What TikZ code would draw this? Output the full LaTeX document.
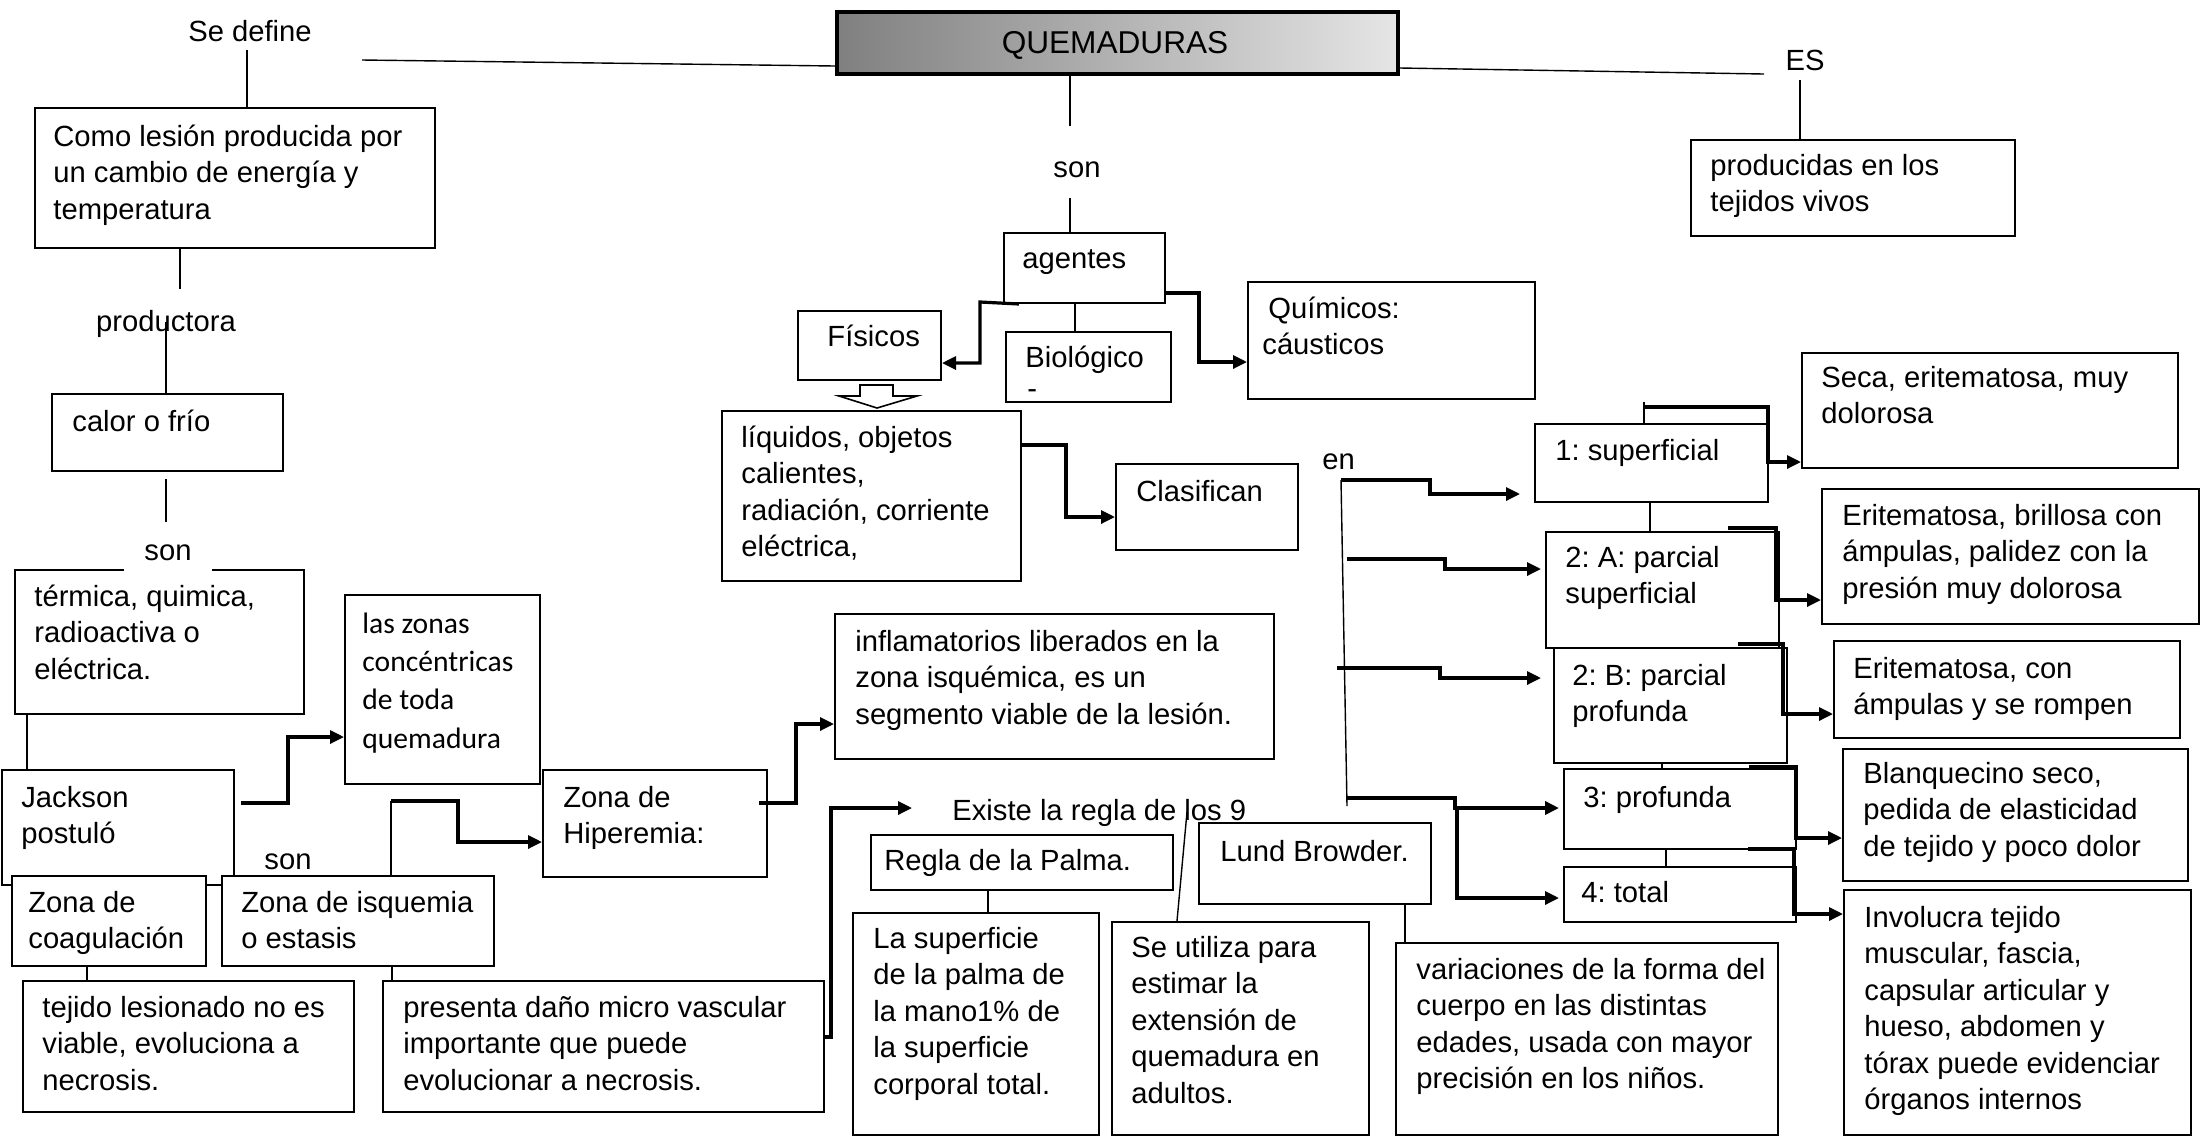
\documentclass[tikz,border=0pt]{standalone}
\usepackage{fontspec}
\setmainfont{Liberation Sans}
\newfontfamily\calib{Carlito}
\usetikzlibrary{arrows.meta}
\frenchspacing
\newcommand\fs{\fontsize{14.6pt}{18.25pt}\selectfont}
\newcommand\mlx[1]{\begin{tabular}[t]{@{}l@{}}#1\end{tabular}}
\newcommand\mkbox[6][]{\node[bx,#1,minimum width={(#5-#3)*0.5pt},minimum height={(#6-#4)*0.5pt}] (#2) at (#3,#4) {};}
\begin{document}
\begin{tikzpicture}[x=0.5pt,y=-0.5pt,
 bx/.style={draw,line width=1pt,fill=white,inner sep=0pt,anchor=north west},
 txt/.style={anchor=base west,inner sep=0pt,font=\fs},
 lbl/.style={anchor=base,inner sep=0pt,font=\fs},
 ln/.style={line width=0.7pt},
 ar/.style={line width=1.6pt,-{Triangle[length=7pt,width=6.5pt]}},
]
\fill[white] (0,0) rectangle (2201,1137);
\useasboundingbox (0,0) rectangle (2201,1137);
% ---------- boxes ----------
\mkbox{def}{34}{107}{434}{247}
\mkbox{calor}{51}{393}{282}{470}
\mkbox{term}{14}{569}{303}{713}
\mkbox{zonas}{344}{594}{539}{783}
\mkbox{jack}{1}{769}{233}{884}
\mkbox{hip}{542}{769}{766}{876}
\mkbox{infl}{834}{613}{1273}{758}
\mkbox{coag}{11}{875}{205}{965}
\mkbox{isq}{221}{875}{493}{965}
\mkbox{teji}{22}{980}{353}{1111}
\mkbox{pres}{382}{980}{823}{1111}
\mkbox{palma}{870}{834}{1172}{889}
\mkbox{lasup}{852}{912}{1098}{1134}
\mkbox{seut}{1111}{921}{1368}{1134}
\mkbox{lund}{1198}{822}{1430}{903}
\mkbox{vari}{1395}{942}{1777}{1134}
\mkbox[line width=2pt,left color=black!50,right color=black!10]{quem}{835}{10}{1396}{72}
\mkbox{agen}{1003}{232}{1164}{302}
\mkbox{fis}{797}{310}{940}{379}
\mkbox{bio}{1005}{331}{1170}{401}
\mkbox{quim}{1247}{281}{1534}{398}
\mkbox{liq}{721}{410}{1020}{580}
\mkbox{clas}{1115}{463}{1297}{549}
\mkbox{prod}{1690}{139}{2014}{235}
\mkbox{s1}{1534}{423}{1767}{501}
\mkbox{seca}{1801}{352}{2177}{467}
\mkbox{s2a}{1545}{531}{1778}{647}
\mkbox{erib}{1821}{488}{2198}{623}
\mkbox{s2b}{1553}{647}{1786}{762}
\mkbox{eric}{1833}{640}{2179}{737}
\mkbox{s3}{1563}{768}{1795}{848}
\mkbox{blan}{1842}{748}{2187}{880}
\mkbox{s4}{1563}{866}{1795}{921}
\mkbox{invo}{1843}{889}{2190}{1134}
% ---------- hollow arrow under Fisicos ----------
\draw[line width=0.8pt,fill=white] (860,385) -- (893,385) -- (893,396) -- (917,396) -- (877,408) -- (839,396) -- (860,396) -- cycle;
% ---------- labels ----------
\node[lbl] (sedef) at (250,41) {Se define};
\node[lbl] (prodc) at (166,331) {productora};
\node[lbl,fill=white,inner xsep=10pt,inner ysep=6pt] (son1) at (168,560) {son};
\node[lbl] (son2) at (288,869) {son};
\node[lbl] (son3) at (1077,177) {son};
\node[lbl] (es) at (1805,70) {ES};
\node[txt] (existe) at (952,820) {Existe la regla de los 9};
\node[txt] (en) at (1322,469) {en};
\node[lbl,font=\fontsize{15.8pt}{19pt}\selectfont] (quemt) at (1115,53) {QUEMADURAS};
% ---------- box texts ----------
\node[txt] (deft) at (53,146) {\mlx{Como lesión producida por\\un cambio de energía y\\temperatura}};
\node[txt] (calort) at (72,431) {calor o frío};
\node[txt] (termt) at (34,606) {\mlx{térmica, quimica,\\radioactiva o\\eléctrica.}};
\node[txt,font=\calib\fontsize{14.8pt}{19.2pt}\selectfont] (zonast) at (362,633) {\mlx{las zonas\\concéntricas\\de toda\\quemadura}};
\node[txt] (jackt) at (21,807) {\mlx{Jackson\\postuló}};
\node[txt] (hipt) at (563,807) {\mlx{Zona de\\Hiperemia:}};
\node[txt] (inflt) at (855,651) {\mlx{inflamatorios liberados en la\\zona isquémica, es un\\segmento viable de la lesión.}};
\node[txt] (coagt) at (28,912) {\mlx{Zona de\\coagulación}};
\node[txt] (isqt) at (241,912) {\mlx{Zona de isquemia\\o estasis}};
\node[txt] (tejit) at (42,1017) {\mlx{tejido lesionado no es\\viable, evoluciona a\\necrosis.}};
\node[txt] (prest) at (403,1017) {\mlx{presenta daño micro vascular\\importante que puede\\evolucionar a necrosis.}};
\node[txt] (palmat) at (884,870) {Regla de la Palma.};
\node[txt] (lasupt) at (873,948) {\mlx{La superficie\\de la palma de\\la mano1\% de\\la superficie\\corporal total.}};
\node[txt] (seutt) at (1131,957) {\mlx{Se utiliza para\\estimar la\\extensión de\\quemadura en\\adultos.}};
\node[txt] (lundt) at (1220,861) {Lund Browder.};
\node[txt] (varit) at (1416,979) {\mlx{variaciones de la forma del\\cuerpo en las distintas\\edades, usada con mayor\\precisión en los niños.}};
\node[txt] (agent) at (1022,268) {agentes};
\node[txt] (fist) at (827,346) {Físicos};
\node[txt] (biot) at (1025,367) {Biológico};
\node[txt] (biod) at (1027,398) {-};
\node[txt] (quimt) at (1262,318) {\mlx{\hspace*{3pt}Químicos:\\cáusticos}};
\node[txt] (liqt) at (741,447) {\mlx{líquidos, objetos\\calientes,\\radiación, corriente\\eléctrica,}};
\node[txt] (clast) at (1136,501) {Clasifican};
\node[txt] (prodt) at (1710,175) {\mlx{producidas en los\\tejidos vivos}};
\node[txt] (s1t) at (1555,460) {1: superficial};
\node[txt] (secat) at (1821,387) {\mlx{Seca, eritematosa, muy\\dolorosa}};
\node[txt] (s2at) at (1565,567) {\mlx{2: A: parcial\\superficial}};
\node[txt] (eribt) at (1842,525) {\mlx{Eritematosa, brillosa con\\ámpulas, palidez con la\\presión muy dolorosa}};
\node[txt] (s2bt) at (1572,685) {\mlx{2: B: parcial\\profunda}};
\node[txt] (erict) at (1853,678) {\mlx{Eritematosa, con\\ámpulas y se rompen}};
\node[txt] (s3t) at (1583,807) {3: profunda};
\node[txt] (blant) at (1863,783) {\mlx{Blanquecino seco,\\pedida de elasticidad\\de tejido y poco dolor}};
\node[txt] (s4t) at (1581,902) {4: total};
\node[txt] (invot) at (1864,927) {\mlx{Involucra tejido\\muscular, fascia,\\capsular articular y\\hueso, abdomen y\\tórax puede evidenciar\\órganos internos}};
% ---------- connectors ----------
\draw[ln] (247,50) -- (def.north -| 247,0);
\draw[ln] (quem.west |- 0,66) -- (362,60);
\draw[ln] (quem.east |- 0,68) -- (1764,74);
\draw[ln] (1800,80) -- (prod.north -| 1800,0);
\draw[ln] (quem.south -| 1070,0) -- (1070,126);
\draw[ln] (1070,198) -- (agen.north -| 1070,0);
\draw[ln] (def.south -| 180,0) -- (180,289);
\draw[ln] (166,322) -- (calor.north -| 166,0);
\draw[ln] (calor.south -| 166,0) ++(0,7) -- (166,522);
\draw[ln] (term.south -| 27,0) -- (jack.north -| 27,0);
\draw[ar] (jack.east |- 0,803) ++(6,0) -- (288,803) -- (288,737) -- (zonas.west |- 0,737);
\draw[ln] (isq.north -| 391,0) -- (391,801);
\draw[ar] (391,801) -- (458,801) -- (458,842) -- (hip.west |- 0,842);
\draw[ar] (759,803) -- (796,803) -- (796,724) -- (infl.west |- 0,724);
\draw[ln] (coag.south -| 87,0) -- (teji.north -| 87,0);
\draw[ln] (isq.south -| 392,0) -- (pres.north -| 392,0);
\draw[ar] (pres.east |- 0,1037) -- (831,1037) -- (831,808) -- (912,808);
\draw[ln] (palma.south -| 988,0) -- (lasup.north -| 988,0);
\draw[ln] (1187,812) -- (seut.north -| 1177,0);
\draw[ln] (lund.south -| 1405,0) -- (vari.north -| 1405,0);
\draw[ar] (agen.south -| 1019,0) -- (980,302) -- (980,363) -- (fis.east |- 0,363);
\draw[ln] (agen.south -| 1075,0) -- (bio.north -| 1075,0);
\draw[ar] (agen.east |- 0,293) -- (1199,293) -- (1199,362) -- (quim.west |- 0,362);
\draw[ar] (liq.east |- 0,445) -- (1066,445) -- (1066,517) -- (clas.west |- 0,517);
\draw[ln] (1341,480) -- (1347,806);
\draw[ar] (1341,480) -- (1430,480) -- (1430,494) -- (1520,494);
\draw[ar] (1347,559) -- (1445,559) -- (1445,569) -- (1541,569);
\draw[ar] (1337,668) -- (1440,668) -- (1440,678) -- (1541,678);
\draw[ar,line width=2.2pt] (1347,798) -- (1455,798) -- (1455,808) -- (1559,808);
\draw[ar] (1457,808) -- (1457,898) -- (1559,898);
\draw[ln] (s1.south -| 1650,0) -- (s2a.north -| 1650,0);
\draw[ln] (s2b.south -| 1662,0) -- (s3.north -| 1662,0);
\draw[ln] (s3.south -| 1666,0) -- (s4.north -| 1666,0);
\draw[ln] (1644,402) -- (s1.north -| 1644,0);
\draw[ar] (1644,407) -- (1768,407) -- (1768,462) -- (seca.west |- 0,462);
\draw[ar] (1728,528) -- (1776,528) -- (1776,600) -- (erib.west |- 0,600);
\draw[ar] (1738,644) -- (1783,644) -- (1783,714) -- (eric.west |- 0,714);
\draw[ar] (1749,767) -- (1796,767) -- (1796,838) -- (blan.west |- 0,838);
\draw[ar] (1748,849) -- (1794,849) -- (1794,914) -- (invo.west |- 0,914);
\end{tikzpicture}
\end{document}
